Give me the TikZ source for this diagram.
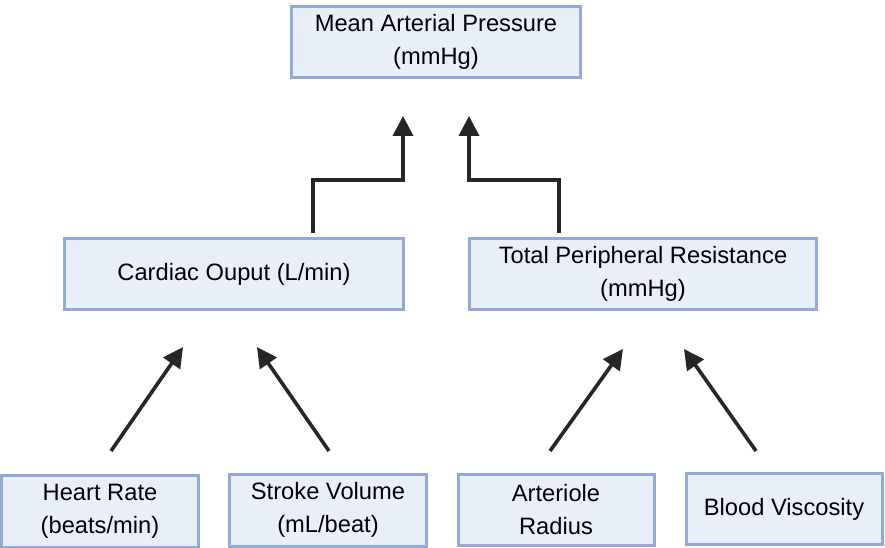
\documentclass[tikz,border=0pt]{standalone}
\usepackage{fontspec}
\setmainfont{Liberation Sans}
\usetikzlibrary{arrows.meta}

\definecolor{boxfill}{HTML}{E9EFF9}
\definecolor{boxline}{HTML}{92A9D9}

\tikzset{
	varbox/.style={draw=boxline, fill=boxfill, line width=3pt, align=center, inner sep=0pt,
		font=\fontsize{23.7}{33}\selectfont},
	arr/.style={-{Triangle[length=20pt,width=20pt]}, line width=3.6pt, color=black!85},
}

\begin{document}
\begin{tikzpicture}[x=1pt,y=-1pt]
	\useasboundingbox (0,0) rectangle (885,548);
	
	%boxes - top and middle
	\node[varbox, minimum width=289pt, minimum height=71pt] (map) at (436,42)  {Mean Arterial Pressure\\(mmHg)};
	\node[varbox, minimum width=339pt, minimum height=71pt] (co)  at (234,274) {Cardiac Ouput (L/min)};
	\node[varbox, minimum width=347pt, minimum height=71pt] (tpr) at (643,274) {Total Peripheral Resistance\\(mmHg)};
	
	%boxes - bottom
	\node[varbox, minimum width=197pt, minimum height=72pt] (hr) at (100,511) {Heart Rate\\(beats/min)};
	\node[varbox, minimum width=197pt, minimum height=72pt] (sv) at (328,510) {Stroke Volume\\(mL/beat)};
	\node[varbox, minimum width=196pt, minimum height=71pt] (ar) at (556,510) {Arteriole\\Radius};
	\node[varbox, minimum width=196pt, minimum height=71pt] (bv) at (784,509) {Blood Viscosity};
	
	%arrow ends
	\coordinate (coout)  at (313,233);
	\coordinate (mapinl) at (403,116);
	\coordinate (tprout) at (559,233);
	\coordinate (mapinr) at (469,116);
	\coordinate (hrout)  at (111,451);	\coordinate (coinl)  at (183,347);
	\coordinate (svout)  at (329,451);	\coordinate (coinr)  at (257,347);
	\coordinate (arout)  at (550,451);	\coordinate (tprinl) at (623,349);
	\coordinate (bvout)  at (756,451);	\coordinate (tprinr) at (684,349);
	
	%elbow arrows into MAP
	\draw[arr] (coout) |- (403,180) -- (mapinl);
	\draw[arr] (tprout) |- (469,180) -- (mapinr);
	
	%slanted arrows
	\draw[arr] (hrout) -- (coinl);
	\draw[arr] (svout) -- (coinr);
	\draw[arr] (arout) -- (tprinl);
	\draw[arr] (bvout) -- (tprinr);
\end{tikzpicture}
\end{document}
